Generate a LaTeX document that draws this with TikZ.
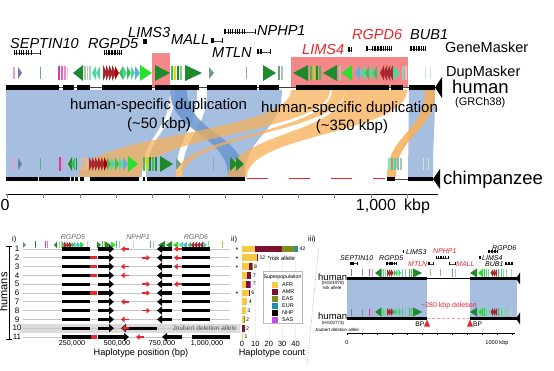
\documentclass[tikz,border=0pt]{standalone}
\usepackage{fontspec}
\setmainfont{Liberation Sans}
\usetikzlibrary{arrows.meta}
\definecolor{dgreen}{HTML}{1F8A2B}
\definecolor{bgreen}{HTML}{2BE02B}
\definecolor{medg}{HTML}{3DBE5A}
\definecolor{seag}{HTML}{4ED8A0}
\definecolor{dred}{HTML}{A8262E}
\definecolor{skyb}{HTML}{5AB0E0}
\definecolor{mag}{HTML}{D83AA8}
\definecolor{slate}{HTML}{6B80A6}
\definecolor{grayg}{HTML}{6F9C88}
\definecolor{lav}{HTML}{9C9CDC}
\definecolor{bandblue}{HTML}{A6BEE0}
\definecolor{darkband}{HTML}{6A95CF}
\definecolor{bandorange}{HTML}{F7AF55}
\definecolor{redbox}{HTML}{F48888}
\definecolor{genered}{HTML}{E8262C}
\definecolor{afr}{HTML}{F6C843}
\definecolor{amr}{HTML}{7A1230}
\definecolor{eas}{HTML}{7D8F1F}
\definecolor{eur}{HTML}{1D8DB5}
\definecolor{sas}{HTML}{C34AF0}
% dupmasker arrow: base x, y, signed length, half height, colour
\newcommand\dmA[5]{\fill[#5] ({#1},{#2-#4}) -- ({#1+#3},{#2}) -- ({#1},{#2+#4}) -- cycle;}
% dupmasker stripe
\newcommand\dmS[5]{\fill[#5] ({#1},{#2-#4}) rectangle ({#1+#3},{#2+#4});}
% synteny ribbon human [a,b] -> chimp [c,d]
\newcommand\band[5]{\fill[#5] (#1,90) .. controls (#1,133.5) and (#3,133.5) .. (#3,177) -- (#4,177) .. controls (#4,133.5) and (#2,133.5) .. (#2,90) -- cycle;}
% gene model
\newcommand\gmk[5]{\draw[line width=0.5pt, black!70] (#1,#3) -- (#2,#3); \foreach \tk in {#5} {\fill[black] ({\tk-0.45},{#3-#4}) rectangle ({\tk+0.45},{#3+#4});}}
% horizontal bar (panel ii)
\newcommand\hb[4]{\fill[#4] (#1,{#3-3.4}) rectangle (#2,{#3+3.4});}
% panel iii dupmasker clusters
\newcommand\iiiL[1]{%
\dmS{351}{#1}{1}{3.5}{slate}\dmS{362}{#1}{0.8}{3.5}{grayg}%
\dmS{369}{#1}{1.2}{3.5}{mag}\dmS{371.5}{#1}{1}{3.5}{mag!60}%
\dmA{381}{#1}{-6}{4.5}{dgreen}%
\dmS{381}{#1}{1.2}{4}{medg}\dmS{383}{#1}{1.2}{4}{seag}\dmS{385}{#1}{1.2}{4}{bgreen!70}%
\dmA{387}{#1}{2.5}{4}{dred}\dmA{389}{#1}{2.5}{4}{dred}\dmA{391}{#1}{2.5}{4}{dred}%
\dmA{393.5}{#1}{2.5}{4}{medg}\dmA{396}{#1}{2.5}{4}{seag}\dmA{398.5}{#1}{2.5}{4}{bgreen}%
\dmS{402}{#1}{1.2}{4}{skyb}\dmS{404.5}{#1}{1.2}{4}{grayg!70}%
\dmS{409}{#1}{1}{4}{medg}\dmS{411}{#1}{1}{4}{bgreen}%
\dmA{413}{#1}{9}{4.5}{dgreen}}
\newcommand\iiiR[1]{%
\dmA{477}{#1}{-7}{4.5}{dgreen}\dmA{483}{#1}{-5}{4.5}{bgreen}%
\dmS{483.5}{#1}{1.2}{4}{medg}\dmS{486}{#1}{1.2}{4}{seag}\dmS{488}{#1}{1.2}{4}{bgreen!70}%
\dmA{493}{#1}{-2.5}{4}{dred}\dmA{495}{#1}{-2.5}{4}{dred}\dmA{497}{#1}{-2.5}{4}{dred}%
\dmS{498}{#1}{1.2}{4}{medg}\dmS{500.5}{#1}{1.2}{4}{seag}\dmS{503}{#1}{1.2}{4}{bgreen!60}\dmS{506}{#1}{1.2}{4}{medg!60}%
\dmS{511}{#1}{1}{4}{grayg!50}}
\tikzset{
  T/.style={inner sep=0pt, anchor=base west},
  TC/.style={inner sep=0pt, anchor=base},
  gene/.style={T, font=\fontsize{14.5}{14.5}\selectfont\itshape},
  big/.style={T, font=\fontsize{14.5}{14.5}\selectfont},
  dup/.style={font=\fontsize{15}{15}\selectfont},
  sgene/.style={T, font=\fontsize{7}{7}\selectfont\itshape},
  rowline/.style={gray!45, line width=0.7pt},
  bbar/.style={line width=3.3pt, black},
  barr/.style={line width=3.3pt, black, -{Triangle[length=5pt,width=8pt]}},
  rarr/.style={line width=1.7pt, genered, -{Triangle[length=3.5pt,width=5.5pt]}},
  rbar/.style={line width=3.3pt, genered},
  small/.style={font=\fontsize{5.2}{5.2}\selectfont},
}
\begin{document}
\begin{tikzpicture}[x=1pt,y=-1pt]
\useasboundingbox (0,0) rectangle (554,371);
\fill[white] (0,0) rectangle (554,371);

% ===== top panel =====
\fill[redbox] (152,53) rectangle (170,88);
\fill[redbox] (291,57) rectangle (408,88);

% synteny ribbons
\band{6}{170}{6}{142}{bandblue}
\band{175}{197}{146}{176}{bandblue}
\band{207}{282}{182}{245}{bandblue}
\band{409}{435}{408}{433}{bandblue}
\band{170}{187}{228}{245}{darkband, opacity=0.85}
\band{291}{330}{78}{140}{bandorange, opacity=0.72}
\band{332}{345}{175}{182}{bandorange, opacity=0.75}
\band{345}{407}{228}{247}{bandorange, opacity=0.75}
\band{425}{435}{387}{396}{bandorange, opacity=0.85}

% gene models
\gmk{14}{40}{53}{2.5}{14,16.5,19,21,23.5,26,28,31,40}
\gmk{104}{121}{53}{2.5}{104,106,108,109.5,111,112.5,114,115.5,117,119,121}
\gmk{143}{146}{42}{2.5}{143,144,145,146}
\gmk{211}{222}{41}{2.5}{211,212,213,222}
\gmk{257}{270}{52}{2.5}{257,258.5,260,261.5,270}
\gmk{224}{255}{32}{2.5}{224,225.5,228,230,232,235,237,239,242,244,255}
\gmk{348}{351}{50}{2.5}{348,349.5,351}
\gmk{366}{391}{49}{2.5}{366,367.5,372,374,375.5,377,378.5,380,381.5,383,385,387,389,391}
\gmk{410}{425}{49}{2.5}{410,411.5,413,414.5,416,418,419.5,421,423,425}

% human DupMasker
\dmS{13}{73}{1.5}{6}{mag!50}
\dmA{18}{73}{4}{6}{slate}
\dmS{40}{73}{1.2}{6}{dgreen!70}
\dmS{58}{73}{1.5}{7}{mag}\dmS{61}{73}{1.5}{7}{mag!80}\dmS{64}{73}{1.5}{7}{mag!60}\dmS{67}{73}{1}{6}{mag!30}
\dmA{83}{73}{-10}{8}{dgreen}
\dmS{84}{73}{1.5}{7}{gray!50}\dmS{86.5}{73}{1.5}{7}{brown!50}\dmS{89}{73}{1.5}{7}{seag!70}
\dmA{96}{73}{-4}{7}{seag}\dmA{100}{73}{-4}{7}{seag}
\dmA{103}{73}{4}{8}{dred}\dmA{106}{73}{4}{8}{dred}\dmA{109}{73}{4}{8}{dred}\dmA{112}{73}{4}{8}{dred}\dmA{115}{73}{4}{7}{red!70!black}
\dmA{123}{73}{-4}{7}{medg}\dmA{123}{73}{4}{7}{seag}\dmA{127}{73}{4}{7}{medg}\dmA{131}{73}{4}{7}{seag}
\dmA{135}{73}{5}{7}{skyb}
\dmA{140}{73}{12}{8}{bgreen}
\dmA{155}{73}{15}{8}{dgreen}
\dmS{171}{73}{1.5}{7}{medg}\dmS{174}{73}{1.5}{7}{yellow!80!green}\dmS{177}{73}{1.5}{7}{dgreen}\dmS{180}{73}{1.5}{7}{medg!70}
\dmA{185}{73}{17}{8}{dgreen}
\dmA{209}{73}{5}{6}{grayg}
\dmS{246}{73}{1}{6}{lav}
\dmA{263}{73}{13}{8}{dgreen}
\dmS{278}{73}{1.5}{7}{grayg}\dmS{281}{73}{1.5}{7}{grayg!60}
\dmA{308}{73}{-15}{8}{dgreen}
\dmS{310}{73}{1.5}{7}{medg}\dmS{313}{73}{1.5}{7}{yellow!70!green}\dmS{316}{73}{1.5}{7}{dgreen}\dmS{319}{73}{1.5}{7}{medg}
\dmA{337}{73}{-14}{8}{dgreen}
\dmS{339}{73}{1.5}{7}{grayg!60}
\dmA{352}{73}{-10}{8}{bgreen}
\dmA{360}{73}{-5}{7}{skyb}\dmA{365}{73}{-5}{7}{seag}\dmA{369}{73}{-4}{7}{medg}\dmA{373}{73}{-4}{7}{seag}\dmA{377}{73}{-4}{7}{medg}
\dmA{384}{73}{-4}{8}{dred}\dmA{387}{73}{-4}{8}{dred}\dmA{390}{73}{-4}{8}{dred}\dmA{393}{73}{-4}{8}{dred}
\dmA{393}{73}{7}{7}{seag}
\dmS{402}{73}{1.5}{7}{grayg!60}\dmS{405}{73}{1.5}{7}{grayg!40}
\dmS{425}{73}{1.2}{6}{medg!30}\dmS{430}{73}{1.2}{6}{medg!30}

% chimp DupMasker
\dmS{13}{164}{1.5}{6}{mag!50}
\dmA{18}{164}{4}{6}{slate}
\dmS{40}{164}{1.2}{6}{dgreen!70}
\dmS{59}{164}{1.5}{7}{mag}\dmS{62}{164}{1.2}{6}{mag!60}
\dmA{72}{164}{-4}{7}{dgreen}\dmA{75}{164}{-4}{7}{medg}\dmS{76}{164}{1.2}{6}{dgreen}
\dmS{80}{164}{1.5}{6}{gray!50}\dmS{83}{164}{1.5}{6}{orange!60}\dmS{86}{164}{1.5}{6}{brown!50}
\dmA{89}{164}{4}{7}{dred}\dmA{92}{164}{4}{7}{dred}\dmA{95}{164}{4}{7}{dred}\dmA{98}{164}{4}{7}{dred}\dmA{101}{164}{4}{7}{dred}\dmA{104}{164}{4}{7}{red!70!black}
\dmA{107}{164}{4}{7}{medg}\dmA{111}{164}{4}{7}{seag}\dmA{115}{164}{4}{7}{medg}\dmA{119}{164}{4}{7}{seag}
\dmA{123}{164}{5}{7}{skyb}
\dmA{128}{164}{10}{8}{bgreen}
\dmS{143}{164}{1.5}{7}{medg}\dmS{146}{164}{1.5}{7}{yellow!70!green}\dmS{149}{164}{1.5}{7}{dgreen}\dmS{152}{164}{1.5}{7}{medg}\dmS{155}{164}{1.5}{7}{dgreen}
\dmA{160}{164}{13}{8}{dgreen}
\dmA{176}{164}{5}{6}{grayg}
\dmS{213}{164}{1}{6}{lav}
\dmA{230}{164}{7}{7}{dgreen}\dmA{236}{164}{8}{7}{dgreen}
\dmS{388}{164}{1.5}{6}{seag!70}\dmS{391}{164}{1.5}{6}{teal!60}\dmS{394}{164}{1.5}{6}{seag}\dmS{397}{164}{1.5}{6}{teal!50}\dmS{400}{164}{1.5}{6}{grayg!60}
\dmS{423}{164}{1.2}{6}{medg!30}\dmS{428}{164}{1.2}{6}{medg!30}

% human bar
\draw[line width=0.8pt, black!75] (6,87.5) -- (435,87.5);
\foreach \a/\b in {6/59,63/74,77/90,102/152,155/199,207/257,259/279,296/389,391/403,409/435}
  \draw[line width=5pt] (\a,87.5) -- (\b,87.5);
\fill (435,87.5) -- (442,77) -- (442,98) -- cycle;

% chimp bar
\draw[line width=0.8pt, black!75] (395,179) -- (408,179);
\foreach \a/\b in {6/38,39/70,71/74,75/78,80/84,90/139,143/145,147/245,387/395,408/433}
  \draw[line width=4.5pt] (\a,179) -- (\b,179);
\draw[genered, line width=1pt, dash pattern=on 21pt off 21pt] (247,179) -- (385,179);
\fill (433,179) -- (440,169) -- (440,189) -- cycle;

% axis
\draw[line width=0.9pt] (6,194) -- (438,194);
\foreach \k in {0,...,11} \draw[line width=0.5pt, gray] ({7+36.4*\k},194) -- ++(0,4);
\node[TC, font=\fontsize{16}{16}\selectfont, name=ax0] at (5,211) {0};
\node[TC, font=\fontsize{16}{16}\selectfont, name=ax1] at (376,211) {1,000};
\node[T, font=\fontsize{16}{16}\selectfont, name=ax2] at (404,211) {kbp};

% labels top
\node[gene, name=gSEPT] at (10,49) {SEPTIN10};
\node[gene, name=gRGPD5] at (88,49) {RGPD5};
\node[gene, name=gLIMS3] at (128,38) {LIMS3};
\node[gene, name=gMALL] at (171,45) {MALL};
\node[gene, name=gMTLN] at (212,58) {MTLN};
\node[gene, name=gNPHP1] at (257,36) {NPHP1};
\node[gene, genered, name=gLIMS4] at (302,55) {LIMS4};
\node[gene, genered, name=gRGPD6] at (352,40) {RGPD6};
\node[gene, name=gBUB1] at (410,40) {BUB1};
\node[big, name=tGM] at (445,53) {GeneMasker};
\node[big, name=tDM] at (446,77) {DupMasker};
\node[T, font=\fontsize{18.5}{18.5}\selectfont, name=tHum] at (452,93.5) {human};
\node[T, font=\fontsize{11}{11}\selectfont, name=tGRC] at (455,106) {(GRCh38)};
\node[T, font=\fontsize{18.5}{18.5}\selectfont, name=tChimp] at (443,185) {chimpanzee};
\node[T, dup, name=d1] at (70,110) {human-specific duplication};
\node[TC, dup, name=d1b] at (159,128.5) {(\textasciitilde50 kbp)};
\node[T, dup, name=d2] at (261,112.5) {human-specific duplication};
\node[TC, dup, name=d2b] at (352,131) {(\textasciitilde350 kbp)};

% ===== panel i =====
\node[T, font=\fontsize{7.5}{7.5}\selectfont, name=pi] at (12,241.5) {i)};
\node[TC, sgene, anchor=base, text=black!60, name=s1] at (73,240) {RGPD5};
\node[TC, sgene, anchor=base, text=black!60, name=s2] at (138,240) {NPHP1};
\node[TC, sgene, anchor=base, text=black!60, name=s3] at (196,240) {RGPD6};
% small dupmasker track
\dmA{23}{245}{3}{3}{slate}\dmS{35}{245}{0.8}{3.5}{dgreen}
\dmS{45}{245}{1.2}{3.5}{mag}\dmS{47}{245}{1.2}{3.5}{mag!70}
\dmA{57}{245}{-3}{3.5}{dgreen}\dmS{58.5}{245}{1}{3.5}{gray!50}\dmS{60.5}{245}{1}{3.5}{brown!50}
\dmA{62}{245}{3}{3.5}{medg}\dmA{64}{245}{3}{3.5}{dred}\dmA{66.5}{245}{3}{3.5}{dred}\dmA{69}{245}{3}{3.5}{dred}\dmA{71.5}{245}{3}{3.5}{medg}\dmA{74}{245}{3}{3.5}{seag}
\dmA{77}{245}{3}{3.5}{skyb}\dmA{80}{245}{4}{3.5}{bgreen}
\dmS{87}{245}{1}{3.5}{gray!40}
\dmA{97}{245}{4}{3.5}{dgreen}\dmS{101.5}{245}{1}{3.5}{medg}\dmS{103.5}{245}{1}{3.5}{yellow!70!green}\dmA{105}{245}{6}{3.5}{dgreen}\dmA{111}{245}{5}{3.5}{bgreen}
\dmS{116}{245}{1.2}{3.5}{grayg}\dmS{119}{245}{1}{3.5}{grayg!60}
\dmS{133}{245}{0.8}{3.5}{medg!40}
\dmS{150}{245}{1.2}{3.5}{grayg}\dmS{152.5}{245}{1}{3.5}{grayg!60}
\dmA{165}{245}{-7}{4}{dgreen}\dmA{172}{245}{-6}{4}{dgreen}
\dmA{178}{245}{-5}{3.5}{bgreen}\dmA{183}{245}{-4}{3.5}{seag}\dmA{187}{245}{-4}{3.5}{skyb}
\dmA{191}{245}{-3}{3.5}{medg}\dmA{194}{245}{-3}{3.5}{dred}\dmA{197}{245}{-3}{3.5}{dred}\dmA{200}{245}{-3}{3.5}{dred}\dmA{203}{245}{-3}{3.5}{dred}
\dmA{203}{245}{4}{3.5}{seag}\dmS{208}{245}{1}{3.5}{medg!60}\dmS{222}{245}{1}{3.5}{yellow!60!green}

% humans bracket
\draw[line width=0.6pt] (9,246) -- (9,339);
\draw[line width=0.6pt] (6,246) -- (12,246);
\draw[line width=0.6pt] (6,339) -- (12,339);
\node[rotate=90, inner sep=0pt, font=\fontsize{11}{11}\selectfont, name=hum] at (3.5,292) {humans};

% row 10 highlight
\fill[gray!28] (20,324) rectangle (240,332.6);
\foreach \i in {1,...,11} {
  \pgfmathsetmacro\yy{249+(\i-1)*8.8}
  \draw[rowline] (23,\yy) -- (230,\yy);
  \node[inner sep=0pt, font=\fontsize{8}{8}\selectfont, name=rn\i] at (17,\yy) {\i};
}
\foreach \yy in {249,257.8,266.6,275.4,284.2,293,301.8,310.6,319.4} {
  \draw[bbar] (62,\yy) -- (90,\yy);
  \draw[barr] (98,\yy) -- (114,\yy);
  \draw[barr] (172,\yy) -- (157,\yy);
  \draw[bbar] (182,\yy) -- (210,\yy);
}
\foreach \yy in {257.8,266.6,275.4,293} \draw[rbar] (90,\yy) -- (97,\yy);
\foreach \yy in {249,266.6,275.4,301.8,319.4} \draw[rarr] (129,\yy) -- (121,\yy);
\foreach \yy in {257.8,284.2,293,310.6} \draw[rarr] (142,\yy) -- (150,\yy);
\foreach \yy in {249,257.8,266.6,284.2} \draw[rarr] (182,\yy) -- (174,\yy);
% row 10
\draw[bbar] (62,328.2) -- (90,328.2);
\draw[barr] (98,328.2) -- (114,328.2);
\draw[barr] (157,328.2) -- (121,328.2);
\draw[rarr] (129,328.2) -- (122,328.2);
\node[inner sep=0pt, anchor=base east, font=\fontsize{6.6}{6.6}\selectfont, text=black!65, name=joub] at (237,330.5) {Joubert deletion allele};
% row 11
\draw[bbar] (62,337) -- (93,337);
\draw[rbar] (91,337) -- (97,337);
\draw[barr] (98,337) -- (129,337);
\draw[rarr] (144,337) -- (136,337);
\draw[barr] (182,337) -- (162,337);
\draw[bbar] (192,337) -- (230,337);
% axis labels
\foreach \x/\l in {72/{250,000},117/{500,000},162/{750,000},207/{1,000,000}}
  \node[TC, font=\fontsize{7.2}{7.2}\selectfont] at (\x,345.5) {\l};
\node[TC, font=\fontsize{9.2}{9.2}\selectfont, name=hpos] at (141,355.5) {Haplotype position (bp)};

% ===== panel ii =====
\node[T, font=\fontsize{7.5}{7.5}\selectfont, name=pii] at (231,241.5) {ii)};
\foreach \x in {242,255.4,268.8,282.2,295.6} \draw[gray!12, line width=0.5pt] (\x,244) -- (\x,341);
\foreach \yy in {249,257.8,266.6,293} \node[inner sep=0pt, font=\fontsize{7}{7}\selectfont] at (237,{\yy+1.5}) {*};
\hb{242}{255.4}{249}{afr}\hb{255.4}{282.2}{249}{amr}\hb{282.2}{294.9}{249}{eas}\hb{294.9}{298.3}{249}{eur}
\hb{242}{256.7}{257.8}{afr}\hb{256.7}{258.1}{257.8}{amr}
\hb{242}{248.7}{266.6}{afr}\hb{248.7}{252}{266.6}{amr}\hb{252}{252.7}{266.6}{eas}
\hb{242}{247.4}{275.4}{afr}\hb{247.4}{251.4}{275.4}{amr}
\hb{242}{246}{284.2}{afr}\hb{246}{250}{284.2}{amr}\hb{250}{251.4}{284.2}{sas}
\hb{242}{248.7}{293}{afr}\hb{248.7}{250}{293}{amr}
\hb{242}{247.4}{301.8}{afr}
\hb{242}{246}{310.6}{afr}
\hb{242}{244}{319.4}{afr}\hb{244}{244.7}{319.4}{eas}
\hb{242}{244.7}{328.2}{amr}
\hb{242}{243.3}{337}{afr}
\foreach \x/\yy/\l in {299.5/249/42,259.3/257.8/12,253.9/266.6/8,252.6/275.4/7,252.6/284.2/7,251.2/293/6,248.6/301.8/4,247.2/310.6/3,245.9/319.4/2,245.9/328.2/2,244.5/337/1}
  \node[inner sep=0pt, anchor=west, small] at (\x,\yy) {\l};
\node[T, font=\fontsize{6}{6}\selectfont, name=risk] at (267.5,261) {*risk allele};
\draw[gray!55, fill=white, line width=0.5pt] (263,271) rectangle (302,323.5);
\node[TC, small, name=legt] at (282.5,279) {Superpopulation};
\foreach \c/\l [count=\j] in {afr/AFR,amr/AMR,eas/EAS,eur/EUR,black/NHP,sas/SAS} {
  \pgfmathsetmacro\ly{285+(\j-1)*7}
  \fill[\c] (272,{\ly-3}) rectangle (278,{\ly+3});
  \node[inner sep=0pt, anchor=west, font=\fontsize{5.5}{5.5}\selectfont] at (282,\ly) {\l};
}
\foreach \x/\l in {242/0,255.4/10,268.8/20,282.2/30,295.6/40}
  \node[TC, font=\fontsize{7.5}{7.5}\selectfont] at (\x,346.5) {\l};
\node[TC, font=\fontsize{9.2}{9.2}\selectfont, name=hcount] at (272,355.5) {Haplotype count};

% ===== panel iii =====
\node[T, font=\fontsize{7.5}{7.5}\selectfont, name=piii] at (308,241.5) {iii)};
\draw[gray!60, line width=0.6pt, dash pattern=on 1pt off 1.3pt] (318.5,249) -- (307,366);
\fill[bandblue] (347,280) rectangle (427,317);
\fill[bandblue] (470,280) rectangle (517,317);
% gene labels
\node[sgene, name=h1] at (340,261) {SEPTIN10};
\node[sgene, name=h2] at (379,261) {RGPD5};
\node[sgene, name=h3] at (406,255) {LIMS3};
\node[sgene, genered, name=h4] at (408,267) {MTLN};
\node[sgene, genered, name=h5] at (433,254) {NPHP1};
\node[sgene, genered, name=h6] at (456,267) {MALL};
\node[sgene, name=h7] at (482,261) {LIMS4};
\node[sgene, name=h8] at (492,251) {RGPD6};
\node[sgene, name=h9] at (485,267) {BUB1};
\gmk{350}{357}{263.5}{1.5}{350,351,352,353,357}
\gmk{386}{396}{263.5}{1.5}{386,387.5,389,390,391,392.5,394,396}
\gmk{403}{403.6}{252}{1.5}{403,403.6}
\gmk{428}{433}{264}{1.5}{428,429,433}
\gmk{436}{448}{258}{1.5}{436,438,440,441.5,443,445,448}
\gmk{449}{455}{264}{1.5}{449,455}
\gmk{479}{480}{258}{1.5}{479,480}
\gmk{488}{497}{251.5}{1.5}{488,489.5,491,492.5,494,495.5,497}
\gmk{505}{512}{264}{1.5}{505,506.5,508,509.5,511,512}
% dupmasker
\iiiL{273}\iiiR{273}
\dmS{430}{273}{1}{3.5}{grayg!60}\dmS{440}{273}{1}{3.5}{lav}\dmS{452}{273}{1.2}{4}{grayg}\dmS{455}{273}{1.2}{4}{grayg!60}
\iiiL{312}\iiiR{312}
% bars
\draw[line width=0.6pt] (347,278.5) -- (517,278.5);
\draw[line width=3pt] (347,278.5) -- (427,278.5);
\draw[line width=3pt] (470,278.5) -- (517,278.5);
\fill (516,278.5) -- (520,272.5) -- (520,284.5) -- cycle;
\draw[line width=3pt] (347,318.5) -- (427,318.5);
\draw[line width=3pt] (470,318.5) -- (517,318.5);
\draw[genered!45, line width=0.9pt, dash pattern=on 3pt off 2pt] (427,318.5) -- (470,318.5);
\fill (516,318.5) -- (520,312.5) -- (520,324.5) -- cycle;
\node[T, font=\fontsize{7}{7}\selectfont, text=genered, name=del] at (421,307.5) {\textasciitilde280 kbp deletion};
\fill[genered] (427,319.5) -- (430,326.5) -- (424,326.5) -- cycle;
\fill[genered] (470,319.5) -- (473,326.5) -- (467,326.5) -- cycle;
\node[inner sep=0pt, anchor=base east, font=\fontsize{6.7}{6.7}\selectfont, name=bp1] at (424.5,326.5) {BP};
\node[T, font=\fontsize{6.7}{6.7}\selectfont, name=bp2] at (473,326.5) {BP};
% labels
\node[T, font=\fontsize{9.5}{9.5}\selectfont, name=hu1] at (318,280.5) {human};
\node[TC, font=\fontsize{4.5}{4.5}\selectfont, name=hu1a] at (333,284.5) {(HG01978)};
\node[TC, font=\fontsize{4.5}{4.5}\selectfont, name=hu1b] at (332,290) {risk allele};
\node[T, font=\fontsize{9.5}{9.5}\selectfont, name=hu2] at (318,319.5) {human};
\node[TC, font=\fontsize{4.5}{4.5}\selectfont, name=hu2a] at (333,324) {(HG00773)};
\node[TC, font=\fontsize{4.5}{4.5}\selectfont, name=hu2b] at (337,331.5) {Joubert deletion allele};
% axis
\draw[line width=0.6pt] (347,333) -- (515,333);
\foreach \k in {0,...,11} \draw[line width=0.4pt] ({347+15*\k},333) -- ++(0,2);
\node[TC, font=\fontsize{5.6}{5.6}\selectfont, name=ax3] at (347,344) {0};
\node[TC, font=\fontsize{5.6}{5.6}\selectfont, name=ax4] at (497,344) {1000 kbp};
\end{tikzpicture}
\end{document}
